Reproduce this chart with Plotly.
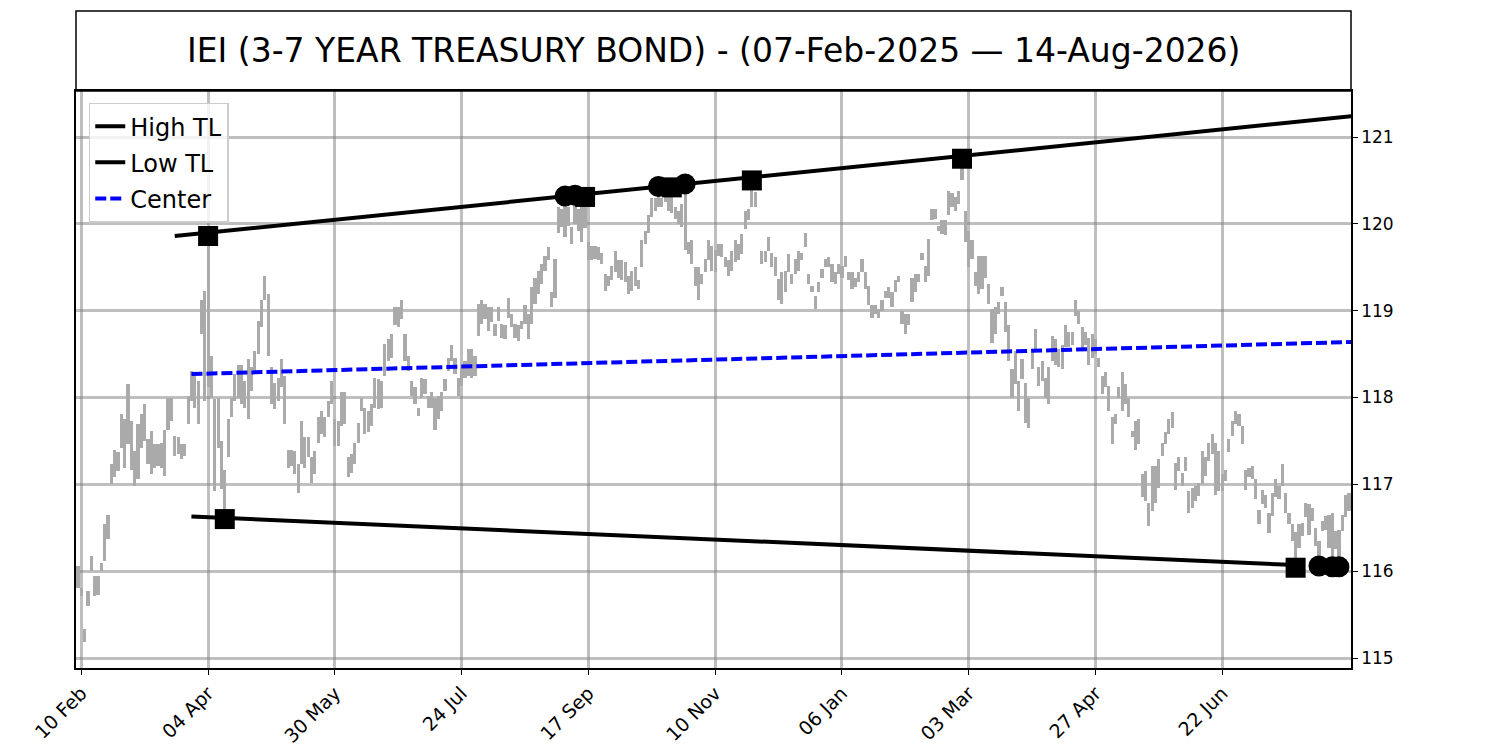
import plotly.graph_objects as go

# daily high / low (trading-day index 0 = 07-Feb-2025)
high = [
    116.06, 115.81, 115.33, 115.77, 116.18, 115.95, 115.94, 116.10, 116.54, 116.65,
    117.23, 117.40, 117.37, 117.81, 117.75, 118.15, 117.73, 117.38, 117.69, 117.81,
    117.92, 117.52, 117.62, 117.46, 117.46, 117.48, 117.63, 118.00, 118.00, 117.56,
    117.54, 117.46, 117.46, 118.02, 118.31, 118.27, 118.19, 119.12, 119.23, 119.85,
    118.48, 117.98, 118.00, 117.50, 117.17, 117.75, 118.00, 118.27, 118.37, 118.38,
    118.19, 118.44, 118.35, 118.54, 118.88, 119.12, 119.40, 119.19, 118.35, 118.17,
    118.23, 118.44, 118.25, 117.40, 117.40, 117.38, 117.23, 117.73, 117.54, 117.54,
    117.31, 117.38, 117.77, 117.85, 117.77, 117.96, 118.19, 117.75, 117.73, 118.06,
    118.06, 117.31, 117.35, 117.48, 117.71, 118.00, 117.88, 117.85, 117.92, 118.23,
    118.21, 118.19, 118.62, 118.67, 118.73, 119.04, 119.04, 119.12, 118.73, 118.48,
    118.19, 118.12, 117.88, 118.23, 118.21, 118.02, 118.06, 118.00, 118.02, 118.06,
    118.21, 118.46, 118.60, 118.46, 118.23, 118.38, 118.42, 118.56, 118.56, 118.48,
    119.08, 119.12, 119.08, 119.04, 119.04, 118.85, 119.04, 118.85, 118.83, 119.15,
    118.96, 118.85, 118.83, 118.88, 119.06, 118.96, 119.27, 119.38, 119.46, 119.54,
    119.63, 119.73, 119.21, 119.60, 120.19, 120.17, 120.32, 120.19, 119.96, 120.32,
    120.17, 120.23, 120.30, 119.79, 119.75, 119.75, 119.73, 119.67, 119.42, 119.40,
    119.52, 119.69, 119.58, 119.58, 119.56, 119.40, 119.46, 119.50, 119.35, 119.81,
    119.92, 120.10, 120.30, 120.30, 120.42, 120.30, 120.35, 120.37, 120.41, 120.19,
    120.15, 120.23, 120.46, 119.79, 119.81, 119.50, 119.50, 119.42, 119.60, 119.81,
    119.75, 119.70, 119.77, 119.77, 119.62, 119.58, 119.69, 119.81, 119.77, 119.88,
    120.15, 120.17, 120.49, 120.37, None, 119.69, 119.69, 119.85, 119.67, 119.62,
    119.37, 119.44, 119.46, 119.65, 119.42, 119.60, 119.69, 119.67, 119.90, 119.42,
    119.29, 119.17, 119.33, 119.48, 119.60, 119.62, 119.54, 119.44, 119.54, 119.52,
    119.63, 119.44, 119.44, 119.38, 119.44, 119.60, 119.44, 119.29, 119.06, 119.06,
    119.02, 119.12, 119.23, 119.27, 119.21, 119.35, 119.40, 119.00, 118.96, 118.96,
    119.38, 119.42, 119.42, 119.67, 119.52, 119.83, 120.17, 120.17, 119.98, 120.04,
    120.04, 120.38, 120.35, 120.31, 120.38, 120.73, 120.15, 119.92, 119.81, 119.44,
    119.63, 119.63, 119.63, 119.31, 119.02, 119.04, 119.10, 119.27, 119.10, 118.83,
    118.33, 118.54, 118.19, 118.44, 118.17, 118.00, 118.52, 118.79, 118.35, 118.42,
    118.23, 118.35, 118.71, 118.67, 118.56, 118.60, 118.83, 118.75, 118.75, 119.12,
    119.00, 118.81, 118.75, 118.69, 118.73, 118.67, 118.46, 118.25, 118.29, 118.13,
    117.77, 117.81, 118.12, 118.29, 118.15, 118.00, 117.62, 117.73, 117.75, 117.12,
    117.15, 116.79, 117.21, 117.21, 117.29, 117.48, 117.60, 117.75, 117.83, 117.25,
    117.31, 117.13, 117.31, 116.92, 116.96, 116.98, 117.02, 117.38, 117.31, 117.48,
    117.58, 117.48, 117.38, 117.12, 117.17, 117.52, 117.73, 117.85, 117.81, 117.67,
    117.17, 117.19, 117.21, 117.06, 116.71, 116.94, 116.88, 116.67, 116.90, 117.06,
    116.98, 117.23, 116.90, 116.67, 116.54, 116.45, 116.54, 116.56, 116.79, 116.77,
    116.73, 116.50, 116.35, 116.58, 116.63, 116.65, 116.67, 116.46, 116.48, 116.65,
    116.88, 116.90,
]
low = [
    115.81, 115.71, 115.19, 115.60, 116.00, 115.72, 115.73, 116.00, 116.12, 116.37,
    117.00, 117.08, 117.15, 117.42, 117.19, 117.46, 117.17, 116.98, 117.06, 117.42,
    117.50, 117.23, 117.12, 117.19, 117.21, 117.19, 117.10, 117.63, 117.73, 117.33,
    117.35, 117.29, 117.33, 117.69, 117.96, 117.88, 117.69, 118.73, 117.96, 118.12,
    118.00, 116.92, 117.42, 116.95, 116.58, 117.31, 117.77, 117.96, 118.00, 117.92,
    117.88, 117.75, 118.08, 118.29, 118.50, 118.81, 119.12, 118.48, 117.92, 117.87,
    117.96, 118.12, 117.69, 117.19, 117.21, 117.12, 116.90, 117.23, 117.19, 117.31,
    117.02, 117.12, 117.48, 117.58, 117.54, 117.77, 117.92, 117.44, 117.44, 117.67,
    117.69, 117.08, 117.13, 117.23, 117.48, 117.85, 117.58, 117.60, 117.67, 117.88,
    117.87, 117.88, 118.25, 118.42, 118.46, 118.83, 118.81, 118.90, 118.42, 118.31,
    118.02, 117.92, 117.79, 118.00, 118.04, 117.88, 117.88, 117.63, 117.75, 117.85,
    118.08, 118.31, 118.42, 118.27, 118.02, 118.13, 118.23, 118.25, 118.23, 118.25,
    118.71, 118.85, 118.90, 118.77, 118.87, 118.71, 118.88, 118.69, 118.67, 118.92,
    118.81, 118.69, 118.65, 118.79, 118.85, 118.67, 118.85, 119.08, 119.19, 119.31,
    119.46, 119.58, 119.04, 119.15, 119.90, 119.96, 119.85, 119.98, 119.77, 120.00,
    119.92, 119.79, 119.95, 119.58, 119.58, 119.60, 119.58, 119.54, 119.23, 119.29,
    119.35, 119.44, 119.38, 119.35, 119.33, 119.19, 119.23, 119.29, 119.25, 119.50,
    119.77, 119.90, 120.08, 120.15, 120.19, 120.19, 120.25, 120.15, 120.12, 120.06,
    120.00, 119.96, 119.70, 119.65, 119.54, 119.29, 119.12, 119.31, 119.44, 119.58,
    119.46, 119.45, 119.63, 119.62, 119.50, 119.40, 119.46, 119.56, 119.58, 119.65,
    119.94, 120.04, 120.19, 120.19, None, 119.54, 119.56, 119.69, 119.50, 119.40,
    119.12, 119.08, 119.21, 119.44, 119.31, 119.42, 119.46, 119.58, 119.73, 119.31,
    119.21, 119.02, 119.21, 119.38, 119.50, 119.50, 119.33, 119.31, 119.42, 119.38,
    119.50, 119.35, 119.25, 119.27, 119.33, 119.44, 119.25, 119.06, 118.92, 118.96,
    118.92, 119.00, 119.15, 119.15, 119.04, 119.21, 119.33, 118.85, 118.73, 118.83,
    119.10, 119.21, 119.33, 119.58, 119.33, 119.40, 120.04, 120.06, 119.92, 119.88,
    119.87, 120.10, 120.19, 120.15, 120.23, 120.50, 119.79, 119.50, 119.60, 119.29,
    119.19, 119.25, 119.38, 119.08, 118.63, 118.73, 118.96, 119.17, 118.75, 118.42,
    118.00, 118.15, 117.85, 118.21, 117.71, 117.65, 118.33, 118.56, 118.13, 118.19,
    118.00, 117.92, 118.42, 118.38, 118.35, 118.33, 118.58, 118.58, 118.60, 118.94,
    118.85, 118.54, 118.60, 118.37, 118.46, 118.50, 118.35, 118.04, 118.12, 117.85,
    117.46, 117.69, 118.00, 117.85, 117.92, 117.77, 117.54, 117.40, 117.46, 116.85,
    116.81, 116.52, 116.69, 116.79, 116.96, 117.33, 117.46, 117.58, 117.65, 116.94,
    117.15, 116.98, 117.15, 116.67, 116.73, 116.81, 116.87, 117.00, 117.10, 117.27,
    117.35, 116.88, 116.92, 116.92, 117.04, 117.37, 117.56, 117.69, 117.67, 117.46,
    116.94, 117.08, 117.06, 116.83, 116.54, 116.77, 116.73, 116.44, 116.63, 116.85,
    116.83, 116.98, 116.67, 116.54, 116.35, 116.03, 116.27, 116.40, 116.62, 116.42,
    116.58, 116.29, 116.06, 116.46, 116.48, 116.27, 116.05, 116.25, 116.05, 116.46,
    116.62, 116.69,
]

tick_labels = ["10 Feb", "04 Apr", "30 May", "24 Jul", "17 Sep",
               "10 Nov", "06 Jan", "03 Mar", "27 Apr", "22 Jun"]
tick_first = 1
tick_step = 38

# trend lines (start / end)
high_tl_x = [29, 382]
high_tl_y = [119.86, 121.24]
low_tl_x = [34, 365]
low_tl_y = [116.63, 116.07]
center_x = [34, 382]
center_y = [118.27, 118.64]

# pivot points
square_x = [39, 44, 152, 178, 202, 265, 365]
square_y = [119.86, 116.60, 120.31, 120.42, 120.50, 120.75, 116.04]
circle_x = [146, 149, 174, 182, 372, 376, 378]
circle_y = [120.32, 120.33, 120.43, 120.46, 116.06, 116.05, 116.05]

idx = list(range(len(high)))
rng = [None if h is None else h - l for h, l in zip(high, low)]

fig = go.Figure()
fig.add_trace(go.Bar(x=idx, y=rng, base=low, width=0.95,
                     marker=dict(color="#aaaaaa", line_width=0),
                     showlegend=False, hoverinfo="skip"))
fig.add_trace(go.Scatter(x=high_tl_x, y=high_tl_y, mode="lines", name="High TL",
                         legendgroup="a", line=dict(color="black", width=4)))
fig.add_trace(go.Scatter(x=low_tl_x, y=low_tl_y, mode="lines", name="Low TL",
                         legendgroup="b", line=dict(color="black", width=4)))
fig.add_trace(go.Scatter(x=center_x, y=center_y, mode="lines", name="Center",
                         legendgroup="c", line=dict(color="blue", width=4, dash="11px,4px")))
fig.add_trace(go.Scatter(x=square_x, y=square_y, mode="markers", showlegend=False,
                         marker=dict(symbol="square", size=20, color="black")))
fig.add_trace(go.Scatter(x=circle_x, y=circle_y, mode="markers", showlegend=False,
                         marker=dict(symbol="circle", size=21, color="black")))

grid = "rgba(128,128,128,0.5)"
fig.update_xaxes(range=[-0.6, 381.6], tickvals=[tick_first + tick_step * k for k in range(len(tick_labels))],
                 ticktext=tick_labels, tickangle=-45, ticks="outside", ticklen=5, tickcolor="black",
                 showgrid=True, gridcolor=grid, gridwidth=3, zeroline=False, automargin=False,
                 showline=True, linecolor="black", linewidth=1.5, mirror=True,
                 tickfont=dict(size=19, color="black"))
fig.update_yaxes(range=[114.885, 121.53], side="right", tickvals=[115, 116, 117, 118, 119, 120, 121],
                 ticks="outside", ticklen=5, tickcolor="black", automargin=False,
                 showgrid=True, gridcolor=grid, gridwidth=3, zeroline=False,
                 showline=True, linecolor="black", linewidth=1.5, mirror=True,
                 tickfont=dict(size=17, color="black"))

fig.add_shape(type="rect", xref="paper", yref="paper", x0=0, x1=1, y0=1, y1=1 + 80 / 577,
              line=dict(color="black", width=1.5))
fig.add_annotation(xref="paper", yref="paper", x=0.5, y=1 + 40 / 577, showarrow=False,
                   text="IEI (3-7 YEAR TREASURY BOND) - (07-Feb-2025 \u2014 14-Aug-2026)",
                   font=dict(size=33, color="black"), xanchor="center", yanchor="middle")

fig.update_layout(width=1500, height=750, plot_bgcolor="white", paper_bgcolor="white",
                  margin=dict(l=68, r=157, t=83, b=90, autoexpand=False), bargap=0,
                  font=dict(family="DejaVu Sans", color="black"),
                  legend=dict(x=0.01, y=0.98, xanchor="left", yanchor="top",
                              bgcolor="rgba(255,255,255,0.8)", bordercolor="#cccccc", borderwidth=1.5,
                              font=dict(size=24), itemwidth=30, tracegroupgap=2))

fig.write_html("out.html")
